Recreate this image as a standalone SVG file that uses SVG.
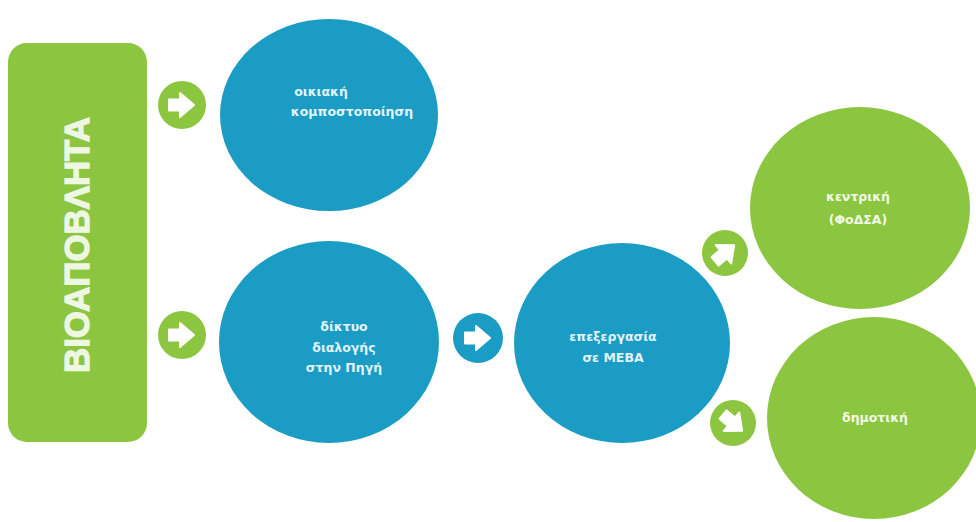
<svg xmlns="http://www.w3.org/2000/svg" width="976" height="522" viewBox="0 0 976 522">
  <style>
    .blue { fill: #1a9cc4; }
    .green { fill: #8cc540; }
    .lbl { font-family: "DejaVu Sans", "Noto Sans", sans-serif; font-weight: bold; font-size: 12.5px; text-anchor: middle; }
    .onblue { fill: #e2f4fa; }
    .ongreen { fill: #f2f9e6; }
    .title { font-family: "Liberation Sans", Arial, sans-serif; font-weight: bold; font-size: 35px; fill: #eef7e2; stroke: #eef7e2; stroke-width: 1.3; text-anchor: middle; dominant-baseline: central; }
    .arrow { fill: #ffffff; stroke: #ffffff; stroke-width: 2; stroke-linejoin: round; }
  </style>
  <defs>
    <path id="arr" class="arrow" d="M-13,-5.5 H-2 V-12 L12,0 L-2,12 V5.5 H-13 Z"/>
  </defs>
  <rect width="976" height="522" fill="#ffffff"/>

  <g id="bioapovlita">
    <rect class="green" x="8" y="43" width="139" height="399" rx="19"/>
    <text class="title" transform="translate(76,245) rotate(-90)" textLength="256" lengthAdjust="spacingAndGlyphs">ΒΙΟΑΠΟΒΛΗΤΑ</text>
  </g>

  <g id="oikiaki">
    <ellipse class="blue" cx="329" cy="115" rx="109" ry="96"/>
    <text class="lbl onblue" x="321" y="96">οικιακή</text>
    <text class="lbl onblue" x="352" y="116">κομποστοποίηση</text>
  </g>

  <g id="diktyo">
    <ellipse class="blue" cx="329" cy="342" rx="110" ry="101"/>
    <text class="lbl onblue" x="344" y="331">δίκτυο</text>
    <text class="lbl onblue" x="344" y="352">διαλογής</text>
    <text class="lbl onblue" x="344" y="372">στην Πηγή</text>
  </g>

  <g id="epexergasia">
    <ellipse class="blue" cx="622" cy="343" rx="108" ry="100"/>
    <text class="lbl onblue" x="613" y="341">επεξεργασία</text>
    <text class="lbl onblue" x="613" y="362">σε ΜΕΒΑ</text>
  </g>

  <g id="kentriki">
    <ellipse class="green" cx="860" cy="208" rx="110" ry="101"/>
    <text class="lbl ongreen" x="858" y="201">κεντρική</text>
    <text class="lbl ongreen" x="858" y="224">(ΦοΔΣΑ)</text>
  </g>

  <g id="dimotiki">
    <ellipse class="green" cx="874" cy="418" rx="107" ry="101"/>
    <text class="lbl ongreen" x="875" y="422">δημοτική</text>
  </g>

  <g id="connectors">
    <g transform="translate(182,105)">
      <circle class="green" r="24"/>
      <use href="#arr"/>
    </g>
    <g transform="translate(182,335)">
      <circle class="green" r="24"/>
      <use href="#arr"/>
    </g>
    <g transform="translate(478,338)">
      <circle class="blue" r="25"/>
      <use href="#arr"/>
    </g>
    <g transform="translate(725,253)">
      <circle class="green" r="23"/>
      <use href="#arr" transform="rotate(-40)"/>
    </g>
    <g transform="translate(733,423)">
      <circle class="green" r="23"/>
      <use href="#arr" transform="rotate(40)"/>
    </g>
  </g>
</svg>
